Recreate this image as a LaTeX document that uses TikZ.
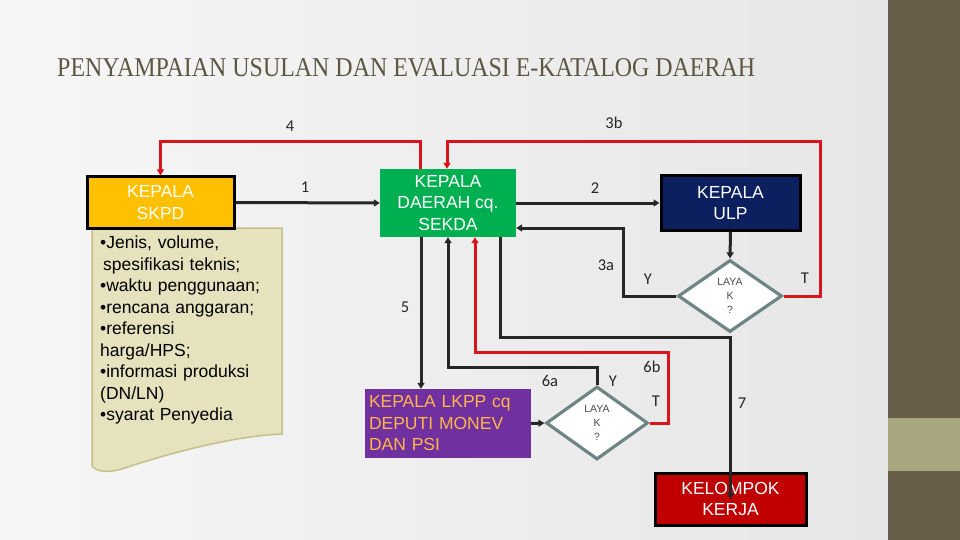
\documentclass[tikz,border=0pt]{standalone}
\usepackage{fontspec}
\setmainfont{Liberation Sans}
\newfontfamily\titlefont{Liberation Serif}
\newfontfamily\labfont{Carlito}
\usetikzlibrary{shapes.geometric,arrows.meta,calc}
\definecolor{bgL}{HTML}{F6F6F6}
\definecolor{bgR}{HTML}{E6E6E6}
\definecolor{panel}{HTML}{665E48}
\definecolor{band}{HTML}{A8A67E}
\definecolor{titlec}{HTML}{5D5643}
\definecolor{skpdc}{HTML}{FFC000}
\definecolor{docfill}{HTML}{E6E2BE}
\definecolor{docline}{HTML}{C4C08A}
\definecolor{greenc}{HTML}{00B050}
\definecolor{navyc}{HTML}{0C1F5E}
\definecolor{purplec}{HTML}{7030A0}
\definecolor{orangec}{HTML}{FFB54A}
\definecolor{redbox}{HTML}{C00000}
\definecolor{redl}{HTML}{D9141B}
\definecolor{diac}{HTML}{6F8585}
\definecolor{linec}{HTML}{262626}
\tikzset{
  box/.style={rectangle, inner sep=0pt, align=center, text=white,
    font=\fontsize{17.5}{21.5}\selectfont},
  bbox/.style={box, draw=black, line width=3pt},
  decide/.style={diamond, draw=diac, fill=white, line width=3.2pt, inner sep=0pt,
    align=center, text=black!70, font=\fontsize{10.5}{14}\selectfont},
  conn/.style={draw=linec, line width=3pt, line join=miter},
  rconn/.style={draw=redl, line width=3pt, line join=miter},
  arr/.style={-{Triangle[length=6pt,width=7pt]}},
  lab/.style={inner sep=0pt, text=black!85, font=\labfont\fontsize{16.5}{16.5}\selectfont},
}
\begin{document}
\begin{tikzpicture}[x=1pt,y=-1pt]
% background
\shade[left color=bgL, right color=bgR] (0,0) rectangle (888,540);
\useasboundingbox (0,0) rectangle (960,540);
\fill[panel] (888,0) rectangle (960,540);
\fill[band] (888,418) rectangle (960,471);
% title
\node[anchor=base west, inner sep=0pt, text=titlec] (title) at (57,77)
  {\resizebox{698pt}{18pt}{\titlefont PENYAMPAIAN USULAN DAN EVALUASI E-KATALOG DAERAH}};
% document shape
\draw[fill=docfill, draw=docline, line width=1.5pt]
  (92,228) -- (282,228) -- (282,434)
  .. controls (230,436) and (160,456) .. (122,469)
  .. controls (104,474) and (95,470) .. (92,466) -- cycle;
\node[anchor=north west, inner sep=0pt, align=left, text width=185pt,
  font=\fontsize{17.5}{21.5}\selectfont] (doc) at (100,236)
  {•Jenis, volume,\\
   \hspace*{3pt}spesifikasi teknis;\\
   •waktu penggunaan;\\
   •rencana anggaran;\\
   •referensi\\
   harga/HPS;\\
   •informasi produksi\\
   (DN/LN)\\
   •syarat Penyedia};
% boxes
\node[bbox, fill=skpdc, minimum width=147pt, minimum height=51pt] (skpd) at (160.5,202.5) {KEPALA\\SKPD};
\node[box, fill=greenc, minimum width=136pt, minimum height=68pt] (daerah) at (448,203) {KEPALA\\DAERAH cq.\\SEKDA};
\node[bbox, fill=navyc, minimum width=139pt, minimum height=54pt] (ulp) at (730.5,203) {KEPALA\\ULP};
\node[decide, minimum width=104pt, minimum height=72pt] (dia1) at (730,296) {LAYA\\K\\?};
\node[box, fill=purplec, text=orangec, align=left, text width=158pt, minimum width=166pt, minimum height=69pt] (lkpp) at (448,423.5) {KEPALA LKPP cq\\DEPUTI MONEV\\DAN PSI};
\node[decide, minimum width=102pt, minimum height=73pt] (dia2) at (597,423) {LAYA\\K\\?};
\node[bbox, fill=redbox, minimum width=151pt, minimum height=52pt] (kk) at (730.5,499) {KELOMPOK\\KERJA};
% helper coordinates
\coordinate (c3a) at (623,228);
\coordinate (c3b) at (820,142);
\coordinate (c4) at (420,142);
\coordinate (x5) at (421,0);
\coordinate (c6a) at (448,367);
\coordinate (c6b) at (668,352);
\coordinate (c6bL) at (475,352);
\coordinate (c7) at (500,337);
% connectors
\draw[conn, arr] (skpd.east) -- (daerah.west);
\draw[conn, arr] (daerah.east) -- (ulp.west);
\draw[conn, arr] (ulp.south) -- (dia1.north);
\draw[conn, arr] (dia1.west) -| (c3a) -- (daerah.east |- c3a);
\draw[rconn, arr] (dia1.east) -| (c3b) -| ([xshift=-1pt]daerah.north);
\draw[rconn, arr] (c4 |- daerah.north) -- (c4) -| (skpd.north);
\draw[conn, arr] (x5 |- daerah.south) -- (x5 |- lkpp.north);
\draw[conn, arr] (dia2.north) |- (c6a) -- (daerah.south);
\draw[rconn, arr] (dia2.east) -| (c6b) -- (c6bL) -- (c6bL |- daerah.south);
\draw[conn, arr] (lkpp.east) -- (dia2.west);
\draw[conn, arr] (c7 |- daerah.south) -- (c7) -| (kk.center);
% labels
\node[lab] (l4) at (290,126) {4};
\node[lab] (l3b) at (614,123) {3b};
\node[lab] (l1) at (305,187) {1};
\node[lab] (l2) at (595,188) {2};
\node[lab] (l3a) at (606,265) {3a};
\node[lab] (ly1) at (648,279) {Y};
\node[lab] (lt1) at (805,278) {T};
\node[lab] (l5) at (405,307) {5};
\node[lab] (l6a) at (550,381) {6a};
\node[lab] (ly2) at (613,381) {Y};
\node[lab] (l6b) at (652,367) {6b};
\node[lab] (lt2) at (656,401) {T};
\node[lab] (l7) at (742,403) {7};
\end{tikzpicture}
\end{document}
